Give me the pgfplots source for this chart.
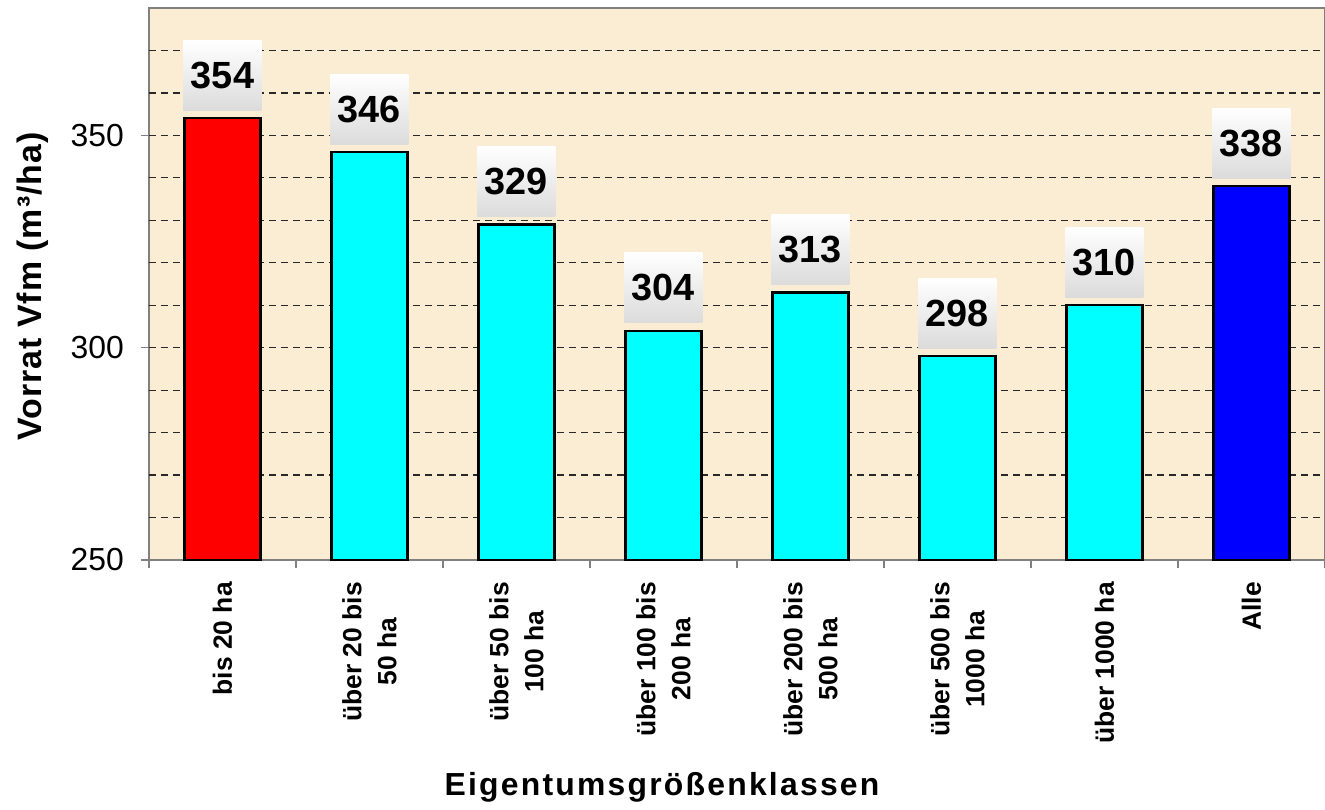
\documentclass[border=0pt]{standalone}
\usepackage{fontspec}
\setmainfont{Liberation Sans}
\usepackage{pgfplots}
\pgfplotsset{compat=1.18}
\definecolor{bgc}{RGB}{250,237,211}
\definecolor{axgray}{RGB}{128,128,128}
\definecolor{barred}{RGB}{255,0,0}
\definecolor{barcyan}{RGB}{0,255,255}
\definecolor{barblue}{RGB}{0,0,255}
\begin{document}
\begin{tikzpicture}
\begin{axis}[
  scale only axis, width=1176bp, height=552bp,
  xmin=-0.5, xmax=7.5, ymin=250, ymax=380,
  ybar, bar width=76bp, bar shift=0pt,
  axis background/.style={fill=bgc},
  axis line style={draw=axgray, line width=1.6bp},
  tick align=outside,
  xtick pos=bottom, ytick pos=left,
  major tick length=8bp,
  xtick={-0.5,0.5,...,7.5},
  x tick label as interval,
  xticklabels={{bis 20 ha},{über 20 bis\\50 ha},{über 50 bis\\100 ha},{über 100 bis\\200 ha},{über 200 bis\\500 ha},{über 500 bis\\1000 ha},{über 1000 ha},{Alle},{}},
  xtick style={draw=axgray, line width=1.6bp},
  xticklabel style={rotate=90, anchor=east, align=center, inner sep=0pt, xshift=-14bp, font=\fontsize{26.5}{35}\selectfont\bfseries},
  ytick={250,300,350},
  ytick style={draw=axgray, line width=1.6bp},
  yticklabel style={font=\fontsize{32}{38}\selectfont, anchor=east, inner sep=0pt, xshift=-17bp},
  /pgf/number format/assume math mode=true,
  extra y ticks={260,270,...,370},
  extra y tick labels={},
  extra y tick style={grid=major, major tick length=0pt, ytick style={draw=none}},
  major grid style={draw={rgb,255:red,40;green,40;blue,40}, line width=1.2bp, dash pattern=on 7bp off 5bp},
  xlabel={\addfontfeature{LetterSpace=7}Eigentumsgrößenklassen},
  xlabel style={at={(axis description cs:0,0)}, anchor=base, xshift=513bp, yshift=-235bp, font=\fontsize{32}{38}\selectfont\bfseries, inner sep=0pt},
  ylabel={\addfontfeature{LetterSpace=3}Vorrat Vfm (m³/ha)},
  ylabel style={at={(axis description cs:0,0.5)}, anchor=base, yshift=107bp, xshift=-2.5bp, font=\fontsize{34}{40}\selectfont\bfseries, inner sep=0pt},
  nodes near coords,
  every node near coord/.append style={font=\fontsize{38}{40}\selectfont\bfseries, text=black, top color=white, bottom color=gray!28, draw=none, minimum width=78bp, minimum height=70bp, inner sep=0pt, anchor=south, yshift=7bp},
]
\addplot[fill=barred, draw=black, line width=2.2bp] coordinates {(0,354)};
\addplot[fill=barcyan, draw=black, line width=2.2bp] coordinates {(1,346) (2,329) (3,304) (4,313) (5,298) (6,310)};
\addplot[fill=barblue, draw=black, line width=2.2bp] coordinates {(7,338)};
\end{axis}
\pgfresetboundingbox
\useasboundingbox (-149bp,-250bp) rectangle (1176bp,560bp);
\end{tikzpicture}
\end{document}
